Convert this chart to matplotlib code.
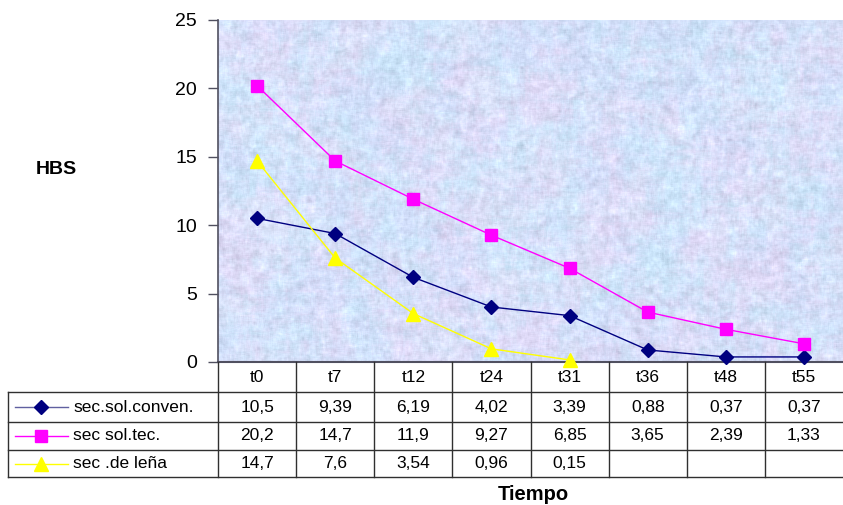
import numpy as np
import matplotlib
matplotlib.use("Agg")
import matplotlib.pyplot as plt
from matplotlib.lines import Line2D

plt.rcParams['font.family'] = ['Liberation Sans', 'DejaVu Sans']

categories = ["t0", "t7", "t12", "t24", "t31", "t36", "t48", "t55"]
series_names = ["sec.sol.conven.", "sec sol.tec.", "sec .de leña"]
conven = [10.5, 9.39, 6.19, 4.02, 3.39, 0.88, 0.37, 0.37]
tec = [20.2, 14.7, 11.9, 9.27, 6.85, 3.65, 2.39, 1.33]
lena = [14.7, 7.6, 3.54, 0.96, 0.15, None, None, None]
yticks = [0, 5, 10, 15, 20, 25]

series = [conven, tec, lena]
colors = ["#000080", "#ff00ff", "#ffff00"]
markers = ["D", "s", "^"]
msizes = [7.5, 8, 9.5]

W, H = 843, 505
fig = plt.figure(figsize=(W / 100, H / 100), dpi=100)

def fx(px):
    return px / W

def fy(py):
    return 1 - py / H

left_px, right_px, top_px, bot_px = 218, 843, 20, 362
ax = fig.add_axes([fx(left_px), fy(bot_px), (right_px - left_px) / W, (bot_px - top_px) / H])

# textured pastel background (decorative only)
rng = np.random.default_rng(7)
nh, nw = bot_px - top_px, right_px - left_px
def smooth(a, k):
    ker = np.ones(k) / k
    a = np.apply_along_axis(lambda r: np.convolve(r, ker, mode='same'), 0, a)
    a = np.apply_along_axis(lambda r: np.convolve(r, ker, mode='same'), 1, a)
    return a
def norm(a):
    return (a - a.mean()) / a.std()
hue1 = norm(norm(smooth(rng.standard_normal((nh, nw)), 41)) + 0.6 * norm(smooth(rng.standard_normal((nh, nw)), 15)))
hue2 = norm(norm(smooth(rng.standard_normal((nh, nw)), 41)) + 0.6 * norm(smooth(rng.standard_normal((nh, nw)), 15)))
light = norm(smooth(rng.standard_normal((nh, nw)), 7)) * 0.6 + norm(smooth(rng.standard_normal((nh, nw)), 3)) * 0.4
base = np.array([0.82, 0.87, 0.98])
pink = np.array([0.93, 0.84, 0.96])
cyan = np.array([0.78, 0.93, 0.99])
tp = np.clip(0.5 + 0.35 * hue1, 0, 1)[..., None]
tc = np.clip(0.5 + 0.35 * hue2, 0, 1)[..., None]
img = base * (1 - 0.5 * tp - 0.5 * tc) + pink * 0.5 * tp + cyan * 0.5 * tc
img = img + (light[..., None] * 0.035)
img = np.clip(img, 0, 1)
ax.imshow(img, extent=[-0.5, len(categories) - 0.5, 0, 25], aspect='auto', zorder=0,
          interpolation='nearest')

x = np.arange(len(categories))
for vals, c, m, ms in zip(series, colors, markers, msizes):
    xs = [xi for xi, v in zip(x, vals) if v is not None]
    ys = [v for v in vals if v is not None]
    ax.plot(xs, ys, color=c, lw=1.0, marker=m, ms=ms, markerfacecolor=c,
            markeredgecolor=c, zorder=3, clip_on=False)

ax.set_xlim(-0.5, len(categories) - 0.5)
ax.set_ylim(0, 25)
ax.set_yticks(yticks)
ax.set_yticklabels([str(v) for v in yticks], fontsize=14)
ax.set_xticks([])
for s in ["top", "right"]:
    ax.spines[s].set_visible(False)
ax.spines["left"].set_color("#505060")
ax.spines["bottom"].set_color("#505060")
ax.spines["left"].set_linewidth(1.2)
ax.spines["bottom"].set_linewidth(1.5)
ax.tick_params(axis='y', length=7, width=1, color="#505060", pad=8)

# data table
row_edges = [362, 392, 422, 450, 477]
tab_left = 8
col_w = (right_px - left_px) / len(categories)
lc = "#303030"
def hline(y, x0, x1):
    fig.add_artist(Line2D([fx(x0), fx(x1)], [fy(y), fy(y)], color=lc, lw=1.0))
def vline(xp, y0, y1):
    fig.add_artist(Line2D([fx(xp), fx(xp)], [fy(y0), fy(y1)], color=lc, lw=1.0))

for r in range(1, 5):
    hline(row_edges[r], tab_left, right_px)
vline(tab_left, row_edges[1], row_edges[4])
for i in range(len(categories)):
    vline(left_px + i * col_w, row_edges[0], row_edges[4])

def fmt(v):
    if v is None:
        return ""
    return ("%g" % v).replace(".", ",")

tfs = 12.5
for i, cat in enumerate(categories):
    cx = left_px + (i + 0.5) * col_w
    fig.text(fx(cx), fy((row_edges[0] + row_edges[1]) / 2), cat, ha='center', va='center', fontsize=tfs)
    for r, vals in enumerate(series):
        cy = (row_edges[r + 1] + row_edges[r + 2]) / 2
        fig.text(fx(cx), fy(cy), fmt(vals[i]), ha='center', va='center', fontsize=tfs)

for r, (name, c, m, ms) in enumerate(zip(series_names, colors, markers, msizes)):
    cy = (row_edges[r + 1] + row_edges[r + 2]) / 2
    fig.add_artist(Line2D([fx(15), fx(68)], [fy(cy), fy(cy)], color=c if r != 0 else "#6060a0", lw=1.0))
    fig.add_artist(Line2D([fx(41)], [fy(cy)], color=c, marker=m, ms=ms, markerfacecolor=c,
                          markeredgecolor=c, lw=0))
    fig.text(fx(73), fy(cy), name, ha='left', va='center', fontsize=tfs)

fig.text(fx(56), fy(169), "HBS", ha='center', va='center', fontsize=14, fontweight='bold')
fig.text(fx(533), fy(495), "Tiempo", ha='center', va='center', fontsize=14.5, fontweight='bold')

fig.savefig("out.png", dpi=100)
